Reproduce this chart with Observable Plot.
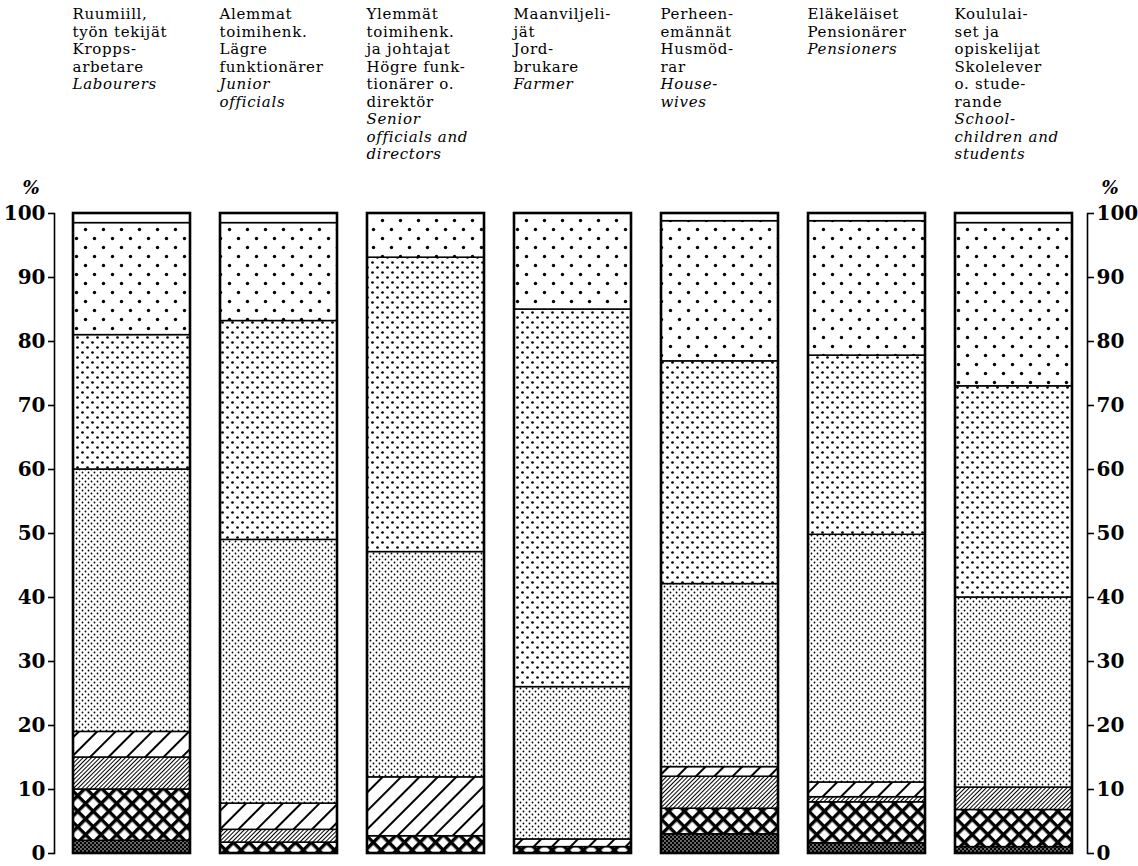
<!DOCTYPE html>
<html>
<head>
<meta charset="utf-8">
<script src="https://cdn.jsdelivr.net/npm/d3@7"></script>
<script src="https://cdn.jsdelivr.net/npm/@observablehq/plot@0.6"></script>
<style>
  body { margin: 0; background: #fff; }
  svg { display: block; }
  .hdr text { letter-spacing: 0.7px; }
</style>
</head>
<body>
<div id="chart"></div>
<script>
// ---- data ----
const groups = ["Labourers", "Junior officials", "Senior officials and directors", "Farmer", "Housewives", "Pensioners", "Schoolchildren and students"];

const headerUpright = [
  ["Ruumiill,", "työn tekijät", "Kropps-", "arbetare"],
  ["Alemmat", "toimihenk.", "Lägre", "funktionärer"],
  ["Ylemmät", "toimihenk.", "ja johtajat", "Högre funk-", "tionärer o.", "direktör"],
  ["Maanviljeli-", "jät", "Jord-", "brukare"],
  ["Perheen-", "emännät", "Husmöd-", "rar"],
  ["Eläkeläiset", "Pensionärer"],
  ["Koululai-", "set ja", "opiskelijat", "Skolelever", "o. stude-", "rande"]
];
const headerItalic = [
  ["Labourers"],
  ["Junior", "officials"],
  ["Senior", "officials and", "directors"],
  ["Farmer"],
  ["House-", "wives"],
  ["Pensioners"],
  ["School-", "children and", "students"]
];

const segments = ["1", "2", "3", "4", "5", "6", "7", "8"];
// segment values per group (bottom to top), percent
const seg1 = [2, 0, 0, 0, 3, 1.6, 1];
const seg2 = [8, 1.7, 2.7, 1, 4, 6.4, 5.8];
const seg3 = [5, 2, 0, 0, 5, 0.8, 3.5];
const seg4 = [4, 4.1, 9.2, 1.2, 1.5, 2.3, 0];
const seg5 = [41, 41.2, 35.2, 23.8, 28.6, 38.7, 29.7];
const seg6 = [21, 34.2, 46, 59, 34.8, 28, 33];
const seg7 = [17.5, 15.3, 6.9, 15, 21.9, 21, 25.5];
const seg8 = [1.5, 1.5, 0, 0, 1.2, 1.2, 1.5];

const yTicks = [0, 10, 20, 30, 40, 50, 60, 70, 80, 90, 100];

// ---- build tables ----
const series = [seg1, seg2, seg3, seg4, seg5, seg6, seg7, seg8];
const data = [];
groups.forEach((g, gi) => {
  series.forEach((vals, si) => {
    if (vals[gi] > 0) data.push({group: g, segment: segments[si], value: vals[gi], fill: `url(#pat${si})`});
  });
});
const totals = groups.map((g, gi) => ({group: g, total: d3.sum(series, s => s[gi])}));

const lines = [];
groups.forEach((g, gi) => {
  headerUpright[gi].forEach((t, k) => lines.push({group: g, text: t, row: k, italic: false}));
  headerItalic[gi].forEach((t, k) => lines.push({group: g, text: t, row: headerUpright[gi].length + k, italic: true}));
});

// ---- layout ----
const W = 1138, H = 866;
const mL = 54, mR = 51, mT = 213, mB = 13;
const pInner = 0.204, pOuter = 0.1156, align = 0.559;
const step = (W - mL - mR) / (groups.length - pInner + 2 * pOuter);
const bw = step * (1 - pInner);
const lineH = 17.5;

const headerMarks = [];
const maxRow = d3.max(lines, d => d.row);
for (let r = 0; r <= maxRow; r++) {
  for (const it of [false, true]) {
    const sub = lines.filter(d => d.row === r && d.italic === it);
    if (!sub.length) continue;
    headerMarks.push(Plot.text(sub, {
      x: "group", text: "text", frameAnchor: "top",
      dy: -205 + r * lineH, dx: -bw / 2 - 1,
      textAnchor: "start", lineAnchor: "top",
      fontStyle: it ? "italic" : "normal", fontSize: 15, className: "hdr"
    }));
  }
}

const plot = Plot.plot({
  width: W, height: H,
  marginLeft: mL, marginRight: mR, marginTop: mT, marginBottom: mB,
  style: {fontFamily: "'DejaVu Serif', serif", background: "#fff", color: "#000"},
  x: {domain: groups, paddingInner: pInner, paddingOuter: pOuter, align: align, axis: null},
  y: {domain: [0, 100], axis: null},
  color: {type: "identity"},
  marks: [
    Plot.barY(data, Plot.stackY({x: "group", y: "value", fill: "fill", stroke: "#000", strokeWidth: 1.5})),
    Plot.barY(totals, {x: "group", y1: 0, y2: "total", fill: "none", stroke: "#000", strokeWidth: 2.6}),
    Plot.frame({anchor: "left", strokeWidth: 1.6}),
    Plot.frame({anchor: "right", strokeWidth: 1.6}),
    Plot.axisY({anchor: "left", ticks: yTicks, tickSize: 6, tickPadding: 3, label: null, fontSize: 20, fontWeight: "bold", strokeWidth: 1.6}),
    Plot.axisY({anchor: "right", ticks: yTicks, tickSize: 6, tickPadding: 3, label: null, fontSize: 20, fontWeight: "bold", strokeWidth: 1.6}),
    Plot.text(["%"], {text: d => d, frameAnchor: "top-left", dx: -32, dy: -32, fontSize: 18, fontWeight: "bold", fontStyle: "italic"}),
    Plot.text(["%"], {text: d => d, frameAnchor: "top-right", dx: 31, dy: -32, fontSize: 18, fontWeight: "bold", fontStyle: "italic"}),
    ...headerMarks
  ]
});

const defs = document.createElementNS("http://www.w3.org/2000/svg", "defs");
defs.innerHTML = `
<pattern id="pat0" patternUnits="userSpaceOnUse" width="4" height="4">
  <rect width="4" height="4" fill="#000"/>
  <circle cx="1" cy="1" r="0.75" fill="#fff"/><circle cx="3" cy="3" r="0.75" fill="#fff"/>
</pattern>
<pattern id="pat1" patternUnits="userSpaceOnUse" width="11" height="11" patternTransform="rotate(45)">
  <rect width="11" height="11" fill="#fff"/>
  <rect width="11" height="3.4" fill="#000"/><rect width="3.4" height="11" fill="#000"/>
</pattern>
<pattern id="pat2" patternUnits="userSpaceOnUse" width="3" height="3" patternTransform="rotate(45)">
  <rect width="3" height="3" fill="#fff"/><rect width="1" height="3" fill="#000"/>
</pattern>
<pattern id="pat3" patternUnits="userSpaceOnUse" width="13" height="13" patternTransform="rotate(45)">
  <rect width="13" height="13" fill="#fff"/><rect width="2" height="13" fill="#000"/>
</pattern>
<pattern id="pat4" patternUnits="userSpaceOnUse" width="6" height="6">
  <rect width="6" height="6" fill="#fff"/>
  <circle cx="1.5" cy="1.5" r="0.9" fill="#000"/><circle cx="4.5" cy="4.5" r="0.9" fill="#000"/>
</pattern>
<pattern id="pat5" patternUnits="userSpaceOnUse" width="10" height="10">
  <rect width="10" height="10" fill="#fff"/>
  <circle cx="2.5" cy="2.5" r="1.35" fill="#000"/><circle cx="7.5" cy="7.5" r="1.35" fill="#000"/>
</pattern>
<pattern id="pat6" patternUnits="userSpaceOnUse" width="18" height="18">
  <rect width="18" height="18" fill="#fff"/>
  <circle cx="4.5" cy="4.5" r="1.7" fill="#000"/><circle cx="13.5" cy="13.5" r="1.7" fill="#000"/>
</pattern>
<pattern id="pat7" patternUnits="userSpaceOnUse" width="4" height="4">
  <rect width="4" height="4" fill="#fff"/>
</pattern>`;
plot.insertBefore(defs, plot.firstChild);
document.getElementById("chart").appendChild(plot);
</script>
</body>
</html>
